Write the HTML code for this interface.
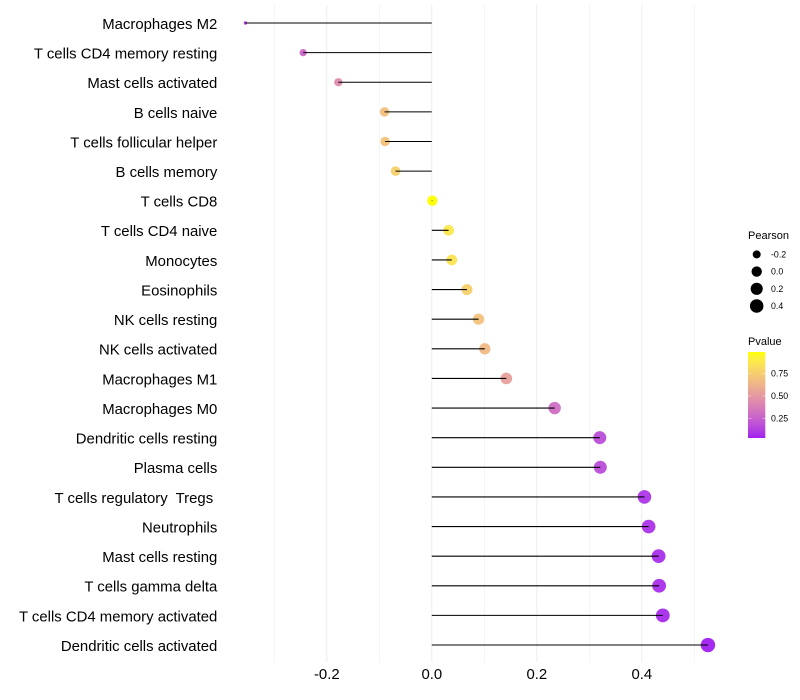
<!DOCTYPE html>
<html>
<head>
<meta charset="utf-8">
<title>Pearson lollipop chart</title>
<style>
html,body{margin:0;padding:0;background:#fff;}
svg{display:block;font-family:"Liberation Sans",sans-serif;}
text{white-space:pre;}
</style>
</head>
<body>
<svg id="chart" width="800" height="700" viewBox="0 0 800 700" xmlns="http://www.w3.org/2000/svg">
<g id="grid"></g>
<g id="points"></g>
<g id="segments"></g>
<g id="ylabels"></g>
<g id="xlabels"></g>
<g id="size-legend"></g>
<g id="color-legend"></g>
</svg>
<script>
const categories = ["Macrophages M2","T cells CD4 memory resting","Mast cells activated","B cells naive","T cells follicular helper","B cells memory","T cells CD8","T cells CD4 naive","Monocytes","Eosinophils","NK cells resting","NK cells activated","Macrophages M1","Macrophages M0","Dendritic cells resting","Plasma cells","T cells regulatory  Tregs ","Neutrophils","Mast cells resting","T cells gamma delta","T cells CD4 memory activated","Dendritic cells activated"];
const pearson = [-0.355,-0.245,-0.178,-0.09,-0.089,-0.069,0.001,0.032,0.038,0.067,0.089,0.101,0.142,0.234,0.32,0.321,0.405,0.413,0.432,0.433,0.44,0.526];
const pvalue = [0.1,0.27,0.43,0.68,0.69,0.76,0.99,0.88,0.86,0.76,0.69,0.65,0.53,0.3,0.16,0.16,0.08,0.07,0.06,0.06,0.05,0.02];
const xTicks = [-0.2,0,0.2,0.4];
const xGrid = [-0.3,-0.2,-0.1,0,0.1,0.2,0.3,0.4,0.5];
const sizeLegendValues = [-0.2,0,0.2,0.4];
const colorLegendValues = [0.75,0.5,0.25];

const NS = "http://www.w3.org/2000/svg";
const X0 = 431.8, XK = 525, ROW0 = 23, ROWH = 29.62;
const PLOT_TOP = 5, PLOT_BOTTOM = 662;
const xs = v => X0 + v * XK;
const ys = i => ROW0 + i * ROWH;
const minV = Math.min(...pearson), maxV = Math.max(...pearson);
const rs = v => 1.7 + 5.5 * Math.sqrt((v - minV) / (maxV - minV));
const minP = Math.min(...pvalue), maxP = Math.max(...pvalue);

function mk(tag, attrs, parent, txt) {
  const el = document.createElementNS(NS, tag);
  for (const k in attrs) el.setAttribute(k, attrs[k]);
  if (txt !== undefined) el.textContent = txt;
  parent.appendChild(el);
  return el;
}
function toLab(c) {
  const l = c.map(u => { u /= 255; return u > 0.04045 ? Math.pow((u + 0.055) / 1.055, 2.4) : u / 12.92; });
  const X = (0.4124 * l[0] + 0.3576 * l[1] + 0.1805 * l[2]) / 0.95047;
  const Y = 0.2126 * l[0] + 0.7152 * l[1] + 0.0722 * l[2];
  const Z = (0.0193 * l[0] + 0.1192 * l[1] + 0.9505 * l[2]) / 1.08883;
  const f = t => t > 0.008856 ? Math.cbrt(t) : 7.787 * t + 16 / 116;
  return [116 * f(Y) - 16, 500 * (f(X) - f(Y)), 200 * (f(Y) - f(Z))];
}
function fromLab(L) {
  const fy = (L[0] + 16) / 116, fx = fy + L[1] / 500, fz = fy - L[2] / 200;
  const g = t => t * t * t > 0.008856 ? t * t * t : (t - 16 / 116) / 7.787;
  const X = g(fx) * 0.95047, Y = g(fy), Z = g(fz) * 1.08883;
  const rgb = [3.2406 * X - 1.5372 * Y - 0.4986 * Z, -0.9689 * X + 1.8758 * Y + 0.0415 * Z, 0.0557 * X - 0.2040 * Y + 1.0570 * Z];
  return "rgb(" + rgb.map(u => {
    u = Math.max(0, Math.min(1, u));
    u = u > 0.0031308 ? 1.055 * Math.pow(u, 1 / 2.4) - 0.055 : 12.92 * u;
    return Math.round(u * 255);
  }).join(",") + ")";
}
const LOW = toLab([160, 32, 240]), HIGH = toLab([255, 255, 0]);
const colorAt = t => fromLab(LOW.map((a, i) => a + (HIGH[i] - a) * t));
const colorP = p => colorAt((p - minP) / (maxP - minP));

const grid = document.getElementById("grid");
xGrid.forEach(v => {
  const major = Math.abs(Math.round(v * 10) % 2) === 0;
  const el = mk("line", {x1: xs(v), x2: xs(v), y1: PLOT_TOP, y2: PLOT_BOTTOM, stroke: "#eeeeee", "stroke-width": major ? 1.07 : 0.6}, grid);
  
  
});

const pts = document.getElementById("points");
const segs = document.getElementById("segments");
const yl = document.getElementById("ylabels");
categories.forEach((c, i) => {
  const p = mk("circle", {cx: xs(pearson[i]), cy: ys(i), r: rs(pearson[i]), fill: colorP(pvalue[i]), "fill-opacity": 0.95}, pts);
  
  
  const s = mk("line", {x1: X0, x2: xs(pearson[i]), y1: ys(i), y2: ys(i), stroke: "#000", "stroke-width": 1.07}, segs);
  
  
  const t = mk("text", {x: 217.3, y: ys(i) + 5.9, "text-anchor": "end", "font-size": 14.9, fill: "#000"}, yl, c);
  
  
});

const xl = document.getElementById("xlabels");
xTicks.forEach(v => {
  const t = mk("text", {x: xs(v), y: 679, "text-anchor": "middle", "font-size": 14.9, fill: "#000"}, xl, v.toFixed(1));
  
  
});

const sl = document.getElementById("size-legend");
const st = mk("text", {x: 748, y: 239, "font-size": 11, fill: "#000"}, sl, "Pearson");


sizeLegendValues.forEach((v, i) => {
  const y = 254.4 + i * 17.2;
  const c = mk("circle", {cx: 756.7, cy: y, r: rs(v), fill: "#000"}, sl);
  
  
  const t = mk("text", {x: 771, y: y + 3.1, "font-size": 8.8, fill: "#000"}, sl, v.toFixed(1));
  
  
});

const cl = document.getElementById("color-legend");
const ct = mk("text", {x: 748, y: 345, "font-size": 11, fill: "#000"}, cl, "Pvalue");


const defs = mk("defs", {}, cl);
const grad = mk("linearGradient", {id: "pgrad", x1: 0, x2: 0, y1: 1, y2: 0}, defs);
for (let i = 0; i <= 20; i++) mk("stop", {offset: i / 20, "stop-color": colorAt(i / 20)}, grad);
const BAR_X = 748, BAR_W = 17.3, BAR_TOP = 352, BAR_BOTTOM = 438;
const bar = mk("rect", {x: BAR_X, y: BAR_TOP, width: BAR_W, height: BAR_BOTTOM - BAR_TOP, fill: "url(#pgrad)"}, cl);


colorLegendValues.forEach(p => {
  const y = 396 + (0.5 - p) * 90;
  [[BAR_X, BAR_X + 3.4], [BAR_X + BAR_W - 3.4, BAR_X + BAR_W]].forEach(e => {
    const k = mk("line", {x1: e[0], x2: e[1], y1: y, y2: y, stroke: "#fff", "stroke-opacity": 0.6, "stroke-width": 0.6}, cl);
    
    
  });
  const t = mk("text", {x: 771, y: y + 3.1, "font-size": 8.8, fill: "#000"}, cl, p.toFixed(2));
  
  
});
</script>
</body>
</html>
